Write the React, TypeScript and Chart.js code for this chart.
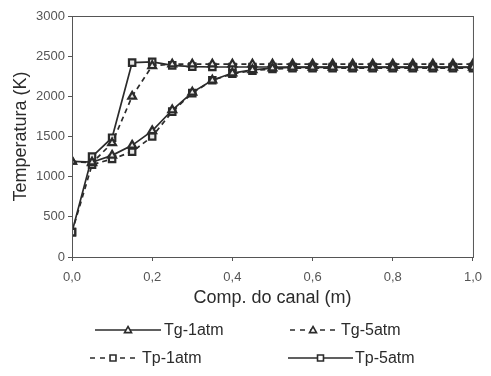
import React, { useEffect, useRef } from "react";
import { Chart, registerables } from "chart.js";

Chart.register(...registerables);

// Position along the channel (m)
const positions = [
  0, 0.05, 0.1, 0.15, 0.2, 0.25, 0.3, 0.35, 0.4, 0.45, 0.5,
  0.55, 0.6, 0.65, 0.7, 0.75, 0.8, 0.85, 0.9, 0.95, 1.0,
];

// Temperatures (K)
const tg1atm = [1190, 1180, 1265, 1390, 1570, 1830, 2050, 2200, 2290, 2330, 2350, 2360, 2360, 2360, 2360, 2360, 2360, 2360, 2360, 2360, 2360];
const tg5atm = [1190, 1170, 1420, 2000, 2380, 2400, 2400, 2400, 2400, 2400, 2400, 2400, 2400, 2400, 2400, 2400, 2400, 2400, 2400, 2400, 2400];
const tp1atm = [310, 1150, 1220, 1310, 1500, 1810, 2040, 2200, 2280, 2320, 2340, 2350, 2350, 2350, 2350, 2350, 2350, 2350, 2350, 2350, 2350];
const tp5atm = [310, 1250, 1485, 2420, 2430, 2385, 2370, 2365, 2365, 2365, 2365, 2365, 2365, 2365, 2365, 2365, 2365, 2365, 2365, 2365, 2365];

const xTicks = [0, 0.2, 0.4, 0.6, 0.8, 1.0];
const yTicks = [0, 500, 1000, 1500, 2000, 2500, 3000];

const seriesLabels = ["Tg-1atm", "Tg-5atm", "Tp-1atm", "Tp-5atm"];

const INK = "#2b2b2b";
const FONT = "'Liberation Sans', Arial, sans-serif";

type Marker = "triangle" | "rect";

function drawMarker(ctx: CanvasRenderingContext2D, kind: Marker, x: number, y: number, r: number) {
  ctx.beginPath();
  if (kind === "triangle") {
    ctx.moveTo(x, y - r);
    ctx.lineTo(x + r, y + r * 0.75);
    ctx.lineTo(x - r, y + r * 0.75);
    ctx.closePath();
  } else {
    ctx.rect(x - r * 0.85, y - r * 0.85, r * 1.7, r * 1.7);
  }
  ctx.fillStyle = "#ffffff";
  ctx.fill();
  ctx.lineWidth = 1.6;
  ctx.strokeStyle = INK;
  ctx.setLineDash([]);
  ctx.stroke();
}

// Legend entries laid out in two rows beneath the axis title
const legendItems: { label: string; dashed: boolean; marker: Marker; x0: number; x1: number; tx: number; y: number }[] = [
  { label: seriesLabels[0], dashed: false, marker: "triangle", x0: 95, x1: 161, tx: 164, y: 330 },
  { label: seriesLabels[1], dashed: true, marker: "triangle", x0: 290, x1: 336, tx: 341, y: 330 },
  { label: seriesLabels[2], dashed: true, marker: "rect", x0: 90, x1: 136, tx: 142, y: 358 },
  { label: seriesLabels[3], dashed: false, marker: "rect", x0: 288, x1: 353, tx: 355, y: 358 },
];

const framePlugin = {
  id: "frameAndLegend",
  afterDatasetsDraw(chart: Chart) {
    const { ctx, chartArea } = chart;
    ctx.save();
    ctx.strokeStyle = "#555";
    ctx.lineWidth = 1;
    ctx.setLineDash([]);
    ctx.strokeRect(chartArea.left + 0.5, chartArea.top + 0.5, chartArea.right - chartArea.left, chartArea.bottom - chartArea.top);
    ctx.restore();
  },
  afterDraw(chart: Chart) {
    const { ctx } = chart;
    ctx.save();
    for (const it of legendItems) {
      ctx.beginPath();
      ctx.setLineDash(it.dashed ? [5, 5] : []);
      ctx.strokeStyle = INK;
      ctx.lineWidth = 1.6;
      ctx.moveTo(it.x0, it.y);
      ctx.lineTo(it.x1, it.y);
      ctx.stroke();
      drawMarker(ctx, it.marker, (it.x0 + it.x1) / 2, it.y, 3.5);
      ctx.setLineDash([]);
      ctx.fillStyle = INK;
      ctx.font = `16px ${FONT}`;
      ctx.textAlign = "left";
      ctx.textBaseline = "middle";
      ctx.fillText(it.label, it.tx, it.y + 1);
    }
    ctx.restore();
  },
};

export default function App() {
  const canvasRef = useRef<HTMLCanvasElement | null>(null);

  useEffect(() => {
    document.body.style.margin = "0";
    const canvas = canvasRef.current;
    if (!canvas) return;

    const mk = (label: string, data: number[], marker: Marker, dashed: boolean) => ({
      label,
      data: positions.map((x, i) => ({ x, y: data[i] })),
      borderColor: INK,
      borderWidth: 1.7,
      borderDash: dashed ? [5, 4] : [],
      pointStyle: marker,
      pointRadius: 4.5,
      pointBorderWidth: 2.2,
      pointBorderColor: INK,
      pointBackgroundColor: "#e8e8e8",
      tension: 0,
      fill: false,
    });

    const chart = new Chart(canvas, {
      type: "line",
      data: {
        datasets: [
          mk(seriesLabels[0], tg1atm, "triangle", false),
          mk(seriesLabels[1], tg5atm, "triangle", true),
          mk(seriesLabels[2], tp1atm, "rect", true),
          mk(seriesLabels[3], tp5atm, "rect", false),
        ],
      },
      options: {
        animation: false,
        responsive: false,
        devicePixelRatio: 1,
        layout: { padding: { left: 0, right: 9, top: 16, bottom: 67 } },
        plugins: { legend: { display: false }, tooltip: { enabled: false } },
        scales: {
          x: {
            type: "linear",
            min: 0,
            max: 1,
            afterBuildTicks: (s: any) => {
              s.ticks = xTicks.map((v) => ({ value: v }));
            },
            afterFit: (s: any) => {
              s.height = 52;
            },
            ticks: {
              color: "#555",
              font: { family: FONT, size: 13 },
              padding: 9,
              maxRotation: 0,
              callback: (v: any) => Number(v).toFixed(1).replace(".", ","),
            },
            grid: { display: true, drawOnChartArea: false, tickLength: 4, color: "#555" },
            border: { display: true, color: "#555" },
            title: {
              display: true,
              text: "Comp. do canal (m)",
              color: INK,
              font: { family: FONT, size: 18 },
              padding: { top: 0, bottom: 0 },
            },
          },
          y: {
            min: 0,
            max: 3000,
            afterBuildTicks: (s: any) => {
              s.ticks = yTicks.map((v) => ({ value: v }));
            },
            afterFit: (s: any) => {
              s.width = 72;
            },
            ticks: {
              color: "#555",
              font: { family: FONT, size: 13 },
              padding: 3,
              callback: (v: any) => String(v),
            },
            grid: { display: true, drawOnChartArea: false, tickLength: 4, color: "#555" },
            border: { display: true, color: "#555" },
            title: {
              display: true,
              text: "Temperatura (K)",
              color: INK,
              font: { family: FONT, size: 18 },
              padding: { top: 10, bottom: 0 },
            },
          },
        },
      },
      plugins: [framePlugin],
    });

    return () => chart.destroy();
  }, []);

  return (
    <div style={{ width: 491, height: 376 }}>
      <canvas ref={canvasRef} width={491} height={376} style={{ display: "block" }} />
    </div>
  );
}
